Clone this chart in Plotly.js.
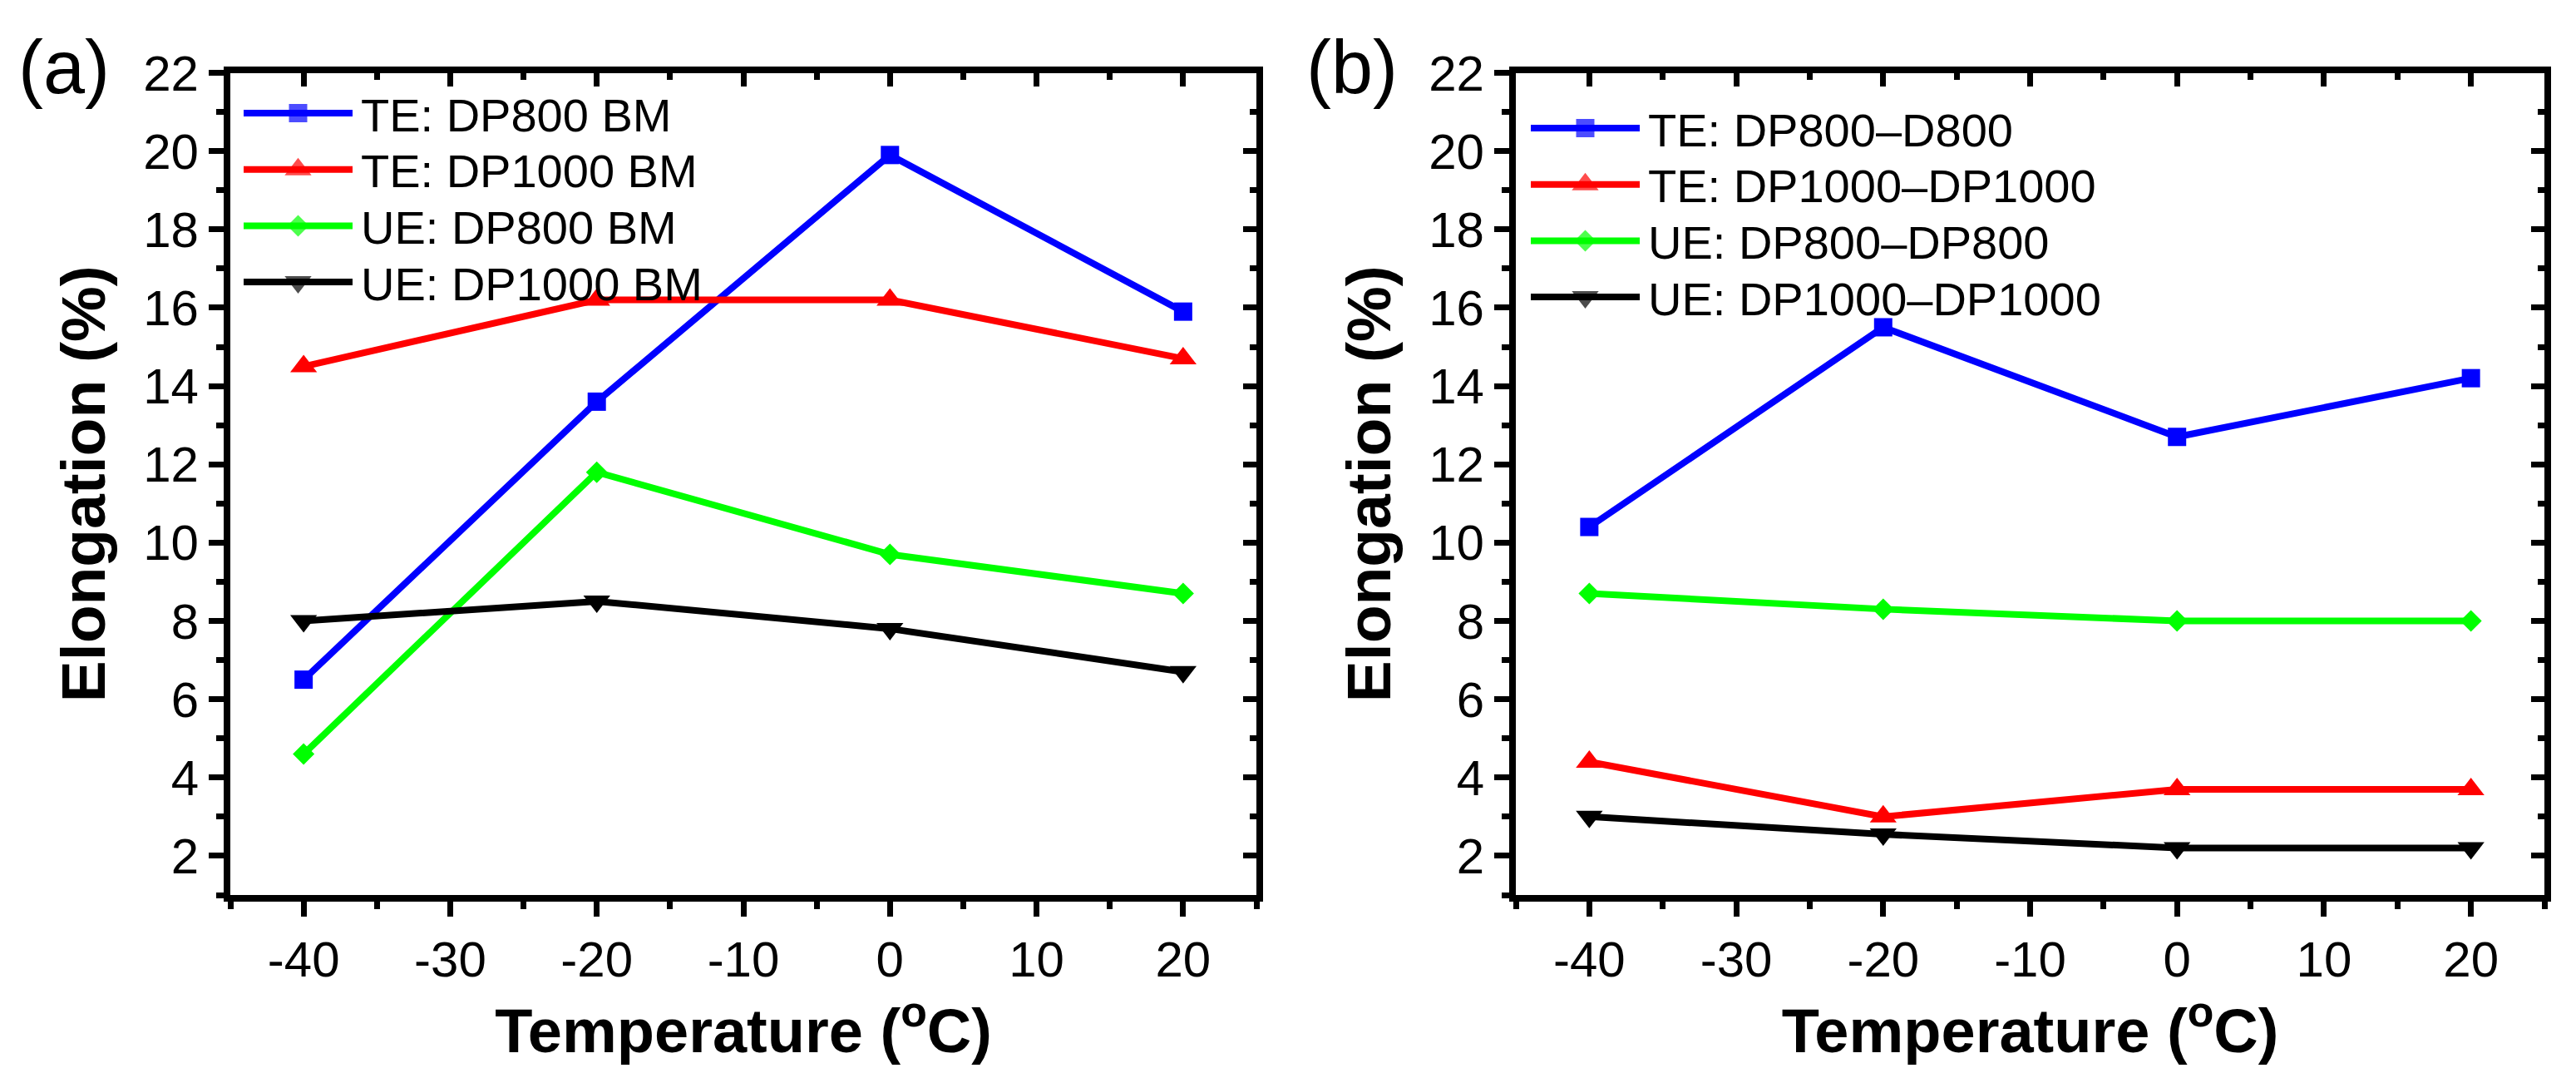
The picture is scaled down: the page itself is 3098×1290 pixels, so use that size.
<!DOCTYPE html>
<html>
<head>
<meta charset="utf-8">
<script src="https://cdn.plot.ly/plotly-3.0.1.min.js"></script>
<style>
  html, body { margin: 0; padding: 0; background: #fff; }
  #chart { width: 3098px; height: 1290px; }
</style>
</head>
<body>
<div id="chart"></div>
<script>
// values
const temps = [-40, -20, 0, 20];

// (a) base metal
const teDP800BM = [6.5, 13.6, 19.9, 15.9];
const teDP1000BM = [14.5, 16.2, 16.2, 14.7];
const ueDP800BM = [4.6, 11.8, 9.7, 8.7];
const ueDP1000BM = [8.0, 8.5, 7.8, 6.7];

// (b) welded joints
const teDP800D800 = [10.4, 15.5, 12.7, 14.2];
const teDP1000DP1000 = [4.4, 3.0, 3.7, 3.7];
const ueDP800DP800 = [8.7, 8.3, 8.0, 8.0];
const ueDP1000DP1000 = [3.0, 2.55, 2.2, 2.2];

const namesA = ['TE: DP800 BM', 'TE: DP1000 BM', 'UE: DP800 BM', 'UE: DP1000 BM'];
const namesB = ['TE: DP800\u2013D800', 'TE: DP1000\u2013DP1000', 'UE: DP800\u2013DP800', 'UE: DP1000\u2013DP1000'];

const xTickVals = [-40, -30, -20, -10, 0, 10, 20];
const xTickText = ['-40', '-30', '-20', '-10', '0', '10', '20'];
const yTickVals = [2, 4, 6, 8, 10, 12, 14, 16, 18, 20, 22];

const W = 3098, H = 1290;
const FONT = 'Liberation Sans, Arial, sans-serif';
const COLORS = ['#0000ff', '#ff0000', '#00ff00', '#000000'];
const SYMBOLS = ['square', 'triangle-up', 'diamond', 'triangle-down'];
const SIZES = [22, 28, 20, 28];

// panel frames in px
const panels = [
  { x0: 277, x1: 1511, legX: 293, legTop: 136, label: '(a)', labelX: 20 },
  { x0: 1823, x1: 3060, legX: 1841, legTop: 154, label: '(b)', labelX: 1569 },
];
const yTop = 87.5, yBot = 1076;
const rowGap = 67.7, sampleLen = 131;

const series = [
  [teDP800BM, teDP1000BM, ueDP800BM, ueDP1000BM],
  [teDP800D800, teDP1000DP1000, ueDP800DP800, ueDP1000DP1000],
];
const names = [namesA, namesB];

const traces = [];
const annotations = [];
const layout = {
  width: W, height: H,
  margin: { l: 0, r: 0, t: 0, b: 0 },
  paper_bgcolor: '#fff', plot_bgcolor: 'rgba(0,0,0,0)',
  showlegend: false,
  font: { family: FONT, color: '#000' },
};

const yDom = [1 - yBot / H, 1 - yTop / H];

panels.forEach((p, pi) => {
  const n = pi * 2;
  const xa = 'x' + (n + 1), ya = 'y' + (n + 1);
  const xo = 'x' + (n + 2), yo = 'y' + (n + 2);
  const kx = n === 0 ? 'xaxis' : 'xaxis' + (n + 1);
  const ky = n === 0 ? 'yaxis' : 'yaxis' + (n + 1);
  const kxo = 'xaxis' + (n + 2), kyo = 'yaxis' + (n + 2);
  const xDom = [p.x0 / W, p.x1 / W];
  const common = {
    showline: true, linecolor: '#000', linewidth: 8,
    showgrid: false, zeroline: false, fixedrange: true,
    tickcolor: '#000', tickwidth: 7,
    tickfont: { family: FONT, size: 60, color: '#000' },
  };
  layout[kx] = Object.assign({}, common, {
    domain: xDom, anchor: ya, range: [-45, 25],
    tickmode: 'array', tickvals: xTickVals, ticktext: xTickText,
    ticks: 'outside', ticklen: 18,
    minor: { ticks: 'outside', ticklen: 9, tickwidth: 7, tickcolor: '#000', dtick: 5, tick0: -45 },
    title: { text: '<b>Temperature (<sup>o</sup>C)</b>', font: { family: FONT, size: 74, color: '#000' }, standoff: 22 },
  });
  layout[ky] = Object.assign({}, common, {
    domain: yDom, anchor: xa, range: [1, 22],
    tickmode: 'array', tickvals: yTickVals,
    ticks: 'outside', ticklen: 18,
    minor: { ticks: 'outside', ticklen: 9, tickwidth: 7, tickcolor: '#000', dtick: 1, tick0: 1 },
    title: { text: '<b>Elongation (%)</b>', font: { family: FONT, size: 75, color: '#000' }, standoff: 24 },
  });
  // top and right frame with inward ticks
  layout[kxo] = Object.assign({}, common, {
    domain: xDom, overlaying: xa, anchor: ya, side: 'top', range: [-45, 25],
    tickmode: 'array', tickvals: xTickVals, showticklabels: false,
    ticks: 'inside', ticklen: 16,
    minor: { ticks: 'inside', ticklen: 8, tickwidth: 7, tickcolor: '#000', dtick: 5, tick0: -45 },
  });
  layout[kyo] = Object.assign({}, common, {
    domain: yDom, overlaying: ya, anchor: xa, side: 'right', range: [1, 22],
    tickmode: 'array', tickvals: yTickVals, showticklabels: false,
    ticks: 'inside', ticklen: 16,
    minor: { ticks: 'inside', ticklen: 8, tickwidth: 7, tickcolor: '#000', dtick: 1, tick0: 1 },
  });
  // empty trace so the frame axes get drawn
  traces.push({ x: [], y: [], xaxis: xo, yaxis: yo, mode: 'lines', hoverinfo: 'skip' });

  series[pi].forEach((vals, i) => {
    traces.push({
      x: temps, y: vals, xaxis: xa, yaxis: ya,
      mode: 'lines+markers', name: names[pi][i],
      line: { color: COLORS[i], width: 8 },
      marker: { symbol: SYMBOLS[i], size: SIZES[i], color: COLORS[i], line: { width: 0 } },
      cliponaxis: false,
    });
    // legend sample drawn on a px overlay
    const ry = p.legTop + i * rowGap;
    traces.push({
      x: [p.legX, p.legX + sampleLen / 2, p.legX + sampleLen], y: [ry, ry, ry],
      xaxis: 'x5', yaxis: 'y5', mode: 'lines+markers', hoverinfo: 'skip',
      line: { color: COLORS[i], width: 8 },
      marker: { symbol: SYMBOLS[i], size: [0, SIZES[i], 0], color: COLORS[i], line: { width: 0 } },
    });
    annotations.push({
      xref: 'x5', yref: 'y5', x: p.legX + sampleLen + 8, y: ry + 2,
      xanchor: 'left', yanchor: 'middle', showarrow: false,
      text: names[pi][i], font: { family: FONT, size: 56, color: '#000' },
    });
  });

  annotations.push({
    xref: 'paper', yref: 'paper', x: p.labelX / W, y: 1 - 81 / H,
    xanchor: 'left', yanchor: 'middle', showarrow: false,
    text: p.label, font: { family: FONT, size: 90, color: '#000' },
  });
});

layout.xaxis5 = { domain: [0, 1], range: [0, W], visible: false, anchor: 'y5', fixedrange: true };
layout.yaxis5 = { domain: [0, 1], range: [H, 0], visible: false, anchor: 'x5', fixedrange: true };
layout.annotations = annotations;

Plotly.newPlot('chart', traces, layout, { displayModeBar: false, staticPlot: true });
</script>
</body>
</html>
